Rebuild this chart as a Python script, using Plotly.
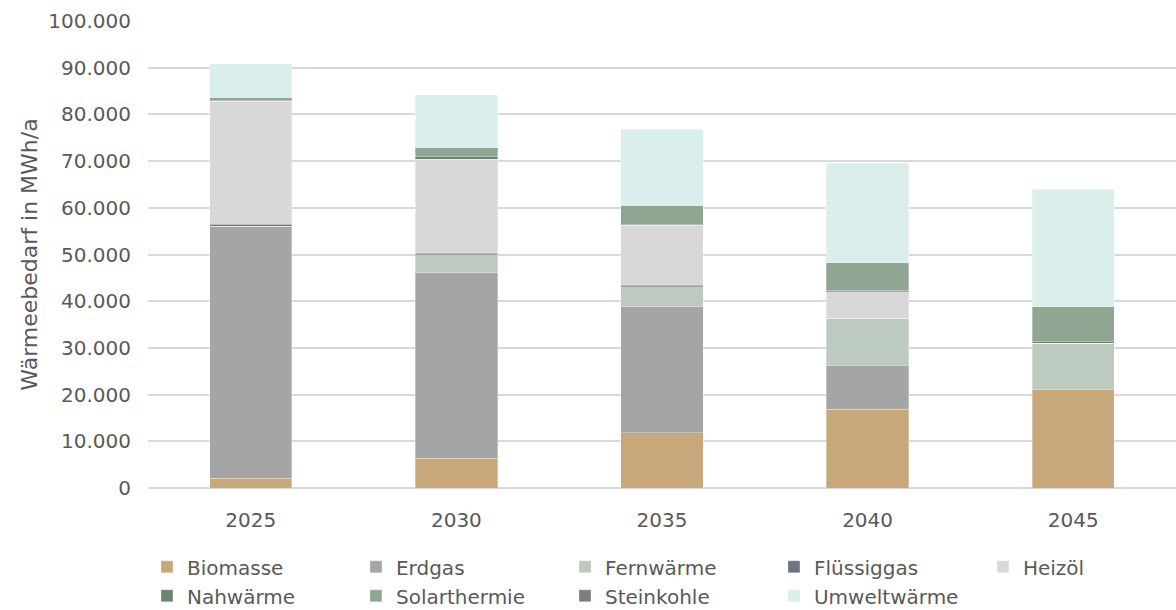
import plotly.graph_objects as go

# Wärmebedarf nach Energieträger (MWh/a)
years = ["2025", "2030", "2035", "2040", "2045"]

biomasse = [2100, 6400, 11800, 16900, 21000]
erdgas = [54000, 39700, 27000, 9300, 0]
fernwaerme = [0, 3800, 4300, 10100, 10000]
fluessiggas = [400, 400, 300, 0, 0]
heizoel = [26300, 20100, 12900, 5700, 0]
nahwaerme = [200, 500, 100, 300, 300]
solarthermie = [700, 2000, 4200, 5900, 7500]
steinkohle = [0, 0, 0, 0, 0]
umweltwaerme = [7200, 11300, 16200, 21300, 25200]

series = [
    ("Biomasse", biomasse, "#C6A87B"),
    ("Erdgas", erdgas, "#A5A5A5"),
    ("Fernwärme", fernwaerme, "#BCCAC0"),
    ("Flüssiggas", fluessiggas, "#6E7480"),
    ("Heizöl", heizoel, "#D8D8D8"),
    ("Nahwärme", nahwaerme, "#6A876D"),
    ("Solarthermie", solarthermie, "#8FA693"),
    ("Steinkohle", steinkohle, "#7E7E80"),
    ("Umweltwärme", umweltwaerme, "#DAEEEB"),
]

font_family = "DejaVu Sans, sans-serif"
text_color = "#595959"

fig = go.Figure()
for name, vals, color in series:
    fig.add_trace(go.Bar(
        x=years, y=vals, name=name,
        marker=dict(color=color, line=dict(color="rgba(255,255,255,0.5)", width=0.6)),
    ))

fig.update_layout(
    barmode="stack",
    bargap=0.6,
    width=1176, height=610,
    margin=dict(l=148, r=0, t=21, b=122, autoexpand=False),
    paper_bgcolor="white", plot_bgcolor="white",
    separators=",.",
    font=dict(family=font_family, size=20, color=text_color),
    showlegend=True,
    legend=dict(
        orientation="h", traceorder="normal",
        x=-0.001, xanchor="left", y=-0.127, yanchor="top",
        entrywidth=164, entrywidthmode="pixels",
        font=dict(size=20, color=text_color),
        itemwidth=30, tracegroupgap=0,
    ),
    xaxis=dict(type="category", showgrid=False, showline=False, ticks="",
               ticklabelstandoff=18,
               tickfont=dict(size=20, color=text_color)),
    yaxis=dict(range=[0, 100000], dtick=10000, tickformat=",d",
               showgrid=True, gridcolor="#D9D9D9", gridwidth=1.5,
               zeroline=True, zerolinecolor="#D9D9D9", zerolinewidth=1.5,
               ticks="", ticklabelstandoff=16,
               tickfont=dict(size=20, color=text_color),
               title=dict(text="Wärmeebedarf in MWh/a", font=dict(size=22, color=text_color),
                          standoff=4)),
)

fig.write_html("out.html")
